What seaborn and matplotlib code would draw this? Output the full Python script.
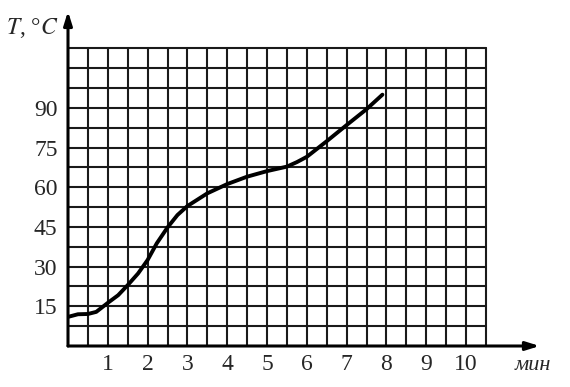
import matplotlib
matplotlib.use("Agg")
import matplotlib.pyplot as plt
import seaborn as sns
import pandas as pd
import numpy as np

# data
time_min = [0.0, 0.25, 0.5, 0.71, 1.0, 1.26, 1.5, 1.76, 2.0, 2.23, 2.5, 2.75, 3.0,
            3.5, 4.0, 4.5, 5.0, 5.5, 5.75, 6.0, 6.5, 7.0, 7.5, 7.9]
temp_c = [11.0, 12.0, 12.1, 12.9, 16.3, 19.2, 23.0, 27.4, 32.5, 38.8, 44.8, 49.5, 52.9,
          57.7, 61.2, 64.0, 66.1, 67.8, 69.5, 71.5, 77.4, 83.5, 89.5, 95.0]
x_ticks = [1, 2, 3, 4, 5, 6, 7, 8, 9, 10]
y_ticks = [15, 30, 45, 60, 75, 90]
y_minor = [7.5, 105]

sns.set_style("white")
plt.rcParams['font.family'] = ['Liberation Serif', 'DejaVu Serif']

fig = plt.figure(figsize=(5.7, 3.87), dpi=100)
ax = fig.add_axes([68 / 570, 41 / 387, 477.6 / 570, 336 / 387])

xmax_grid = 10.5
ymax_grid = 112.5
ax.set_xlim(0, 12)
ax.set_ylim(0, 127)

grid_c = "#1a1a1a"
for gx in np.arange(0.5, xmax_grid + 0.01, 0.5):
    ax.plot([gx, gx], [0, ymax_grid], color=grid_c, lw=1.5, zorder=1)
for gy in np.arange(7.5, ymax_grid + 0.01, 7.5):
    ax.plot([0, xmax_grid], [gy, gy], color=grid_c, lw=1.5, zorder=1)

df = pd.DataFrame({"t": time_min, "T": temp_c})
sns.lineplot(data=df, x="t", y="T", ax=ax, color="black", lw=2.8, zorder=3)

# axes with arrows
ax.annotate("", xy=(11.85, 0), xytext=(0, 0),
            arrowprops=dict(arrowstyle="-|>,head_length=0.8,head_width=0.25", color="black", lw=2.2,
                            shrinkA=0, shrinkB=0), zorder=4)
ax.annotate("", xy=(0, 126.5), xytext=(0, 0),
            arrowprops=dict(arrowstyle="-|>,head_length=0.8,head_width=0.25", color="black", lw=2.2,
                            shrinkA=0, shrinkB=0), zorder=4)

for s in ax.spines.values():
    s.set_visible(False)

ax.set_xticks(x_ticks)
ax.set_xticklabels([str(v) for v in x_ticks], fontsize=17)
ax.set_yticks(y_ticks)
ax.set_yticklabels([str(v) for v in y_ticks], fontsize=17)
ax.set_yticks(y_minor, minor=True)
ax.tick_params(axis="x", which="major", direction="inout", length=5, width=2.4,
               color="black", pad=3)
ax.tick_params(axis="y", which="major", direction="inout", length=5, width=2.4,
               color="black", pad=5)
ax.tick_params(axis="y", which="minor", direction="inout", length=4, width=2.0, color="black")
ax.set_xlabel("")
ax.set_ylabel("")

fig.text(6 / 570, 1 - 28 / 387, r"$T$, °$C$", fontsize=17, ha="left", va="center",
         math_fontfamily='stix')
fig.text(533 / 570, 1 - 366 / 387, "мин", fontsize=16, style="italic",
         ha="center", va="center")

fig.savefig("out.png", dpi=100)
